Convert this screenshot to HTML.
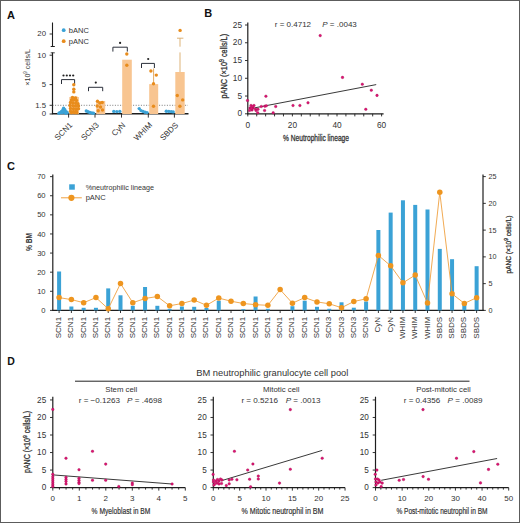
<!DOCTYPE html>
<html><head><meta charset="utf-8"><style>
html,body{margin:0;padding:0;background:#fff;}
body{width:520px;height:523px;overflow:hidden;}
svg{display:block;font-family:"Liberation Sans",sans-serif;}
</style></head><body>
<svg width="520" height="523" viewBox="0 0 520 523">
<rect x="0" y="0" width="520" height="523" fill="#fff"/>
<text x="7.00" y="19.40" font-size="11" text-anchor="start" font-weight="bold" fill="#111" >A</text>
<line x1="52.50" y1="22.50" x2="52.50" y2="46.50" stroke="#1e1e1e" stroke-width="1.1" />
<line x1="50.70" y1="46.50" x2="54.80" y2="46.50" stroke="#1e1e1e" stroke-width="1" />
<line x1="52.50" y1="52.50" x2="52.50" y2="114.00" stroke="#1e1e1e" stroke-width="1.2" />
<line x1="50.70" y1="52.80" x2="54.80" y2="52.80" stroke="#1e1e1e" stroke-width="0.8" />
<line x1="49.60" y1="34.00" x2="52.50" y2="34.00" stroke="#1e1e1e" stroke-width="0.9" />
<text x="46.00" y="36.40" font-size="7.8" text-anchor="end" font-weight="normal" fill="#333" >20</text>
<line x1="49.60" y1="55.20" x2="52.50" y2="55.20" stroke="#1e1e1e" stroke-width="0.9" />
<text x="46.00" y="57.60" font-size="7.8" text-anchor="end" font-weight="normal" fill="#333" >10</text>
<line x1="49.60" y1="84.60" x2="52.50" y2="84.60" stroke="#1e1e1e" stroke-width="0.9" />
<text x="46.00" y="87.00" font-size="7.8" text-anchor="end" font-weight="normal" fill="#333" >5</text>
<line x1="49.60" y1="105.30" x2="52.50" y2="105.30" stroke="#1e1e1e" stroke-width="0.9" />
<text x="46.00" y="107.70" font-size="7.8" text-anchor="end" font-weight="normal" fill="#333" >1.5</text>
<line x1="49.60" y1="114.00" x2="52.50" y2="114.00" stroke="#1e1e1e" stroke-width="0.9" />
<text x="46.00" y="116.40" font-size="7.8" text-anchor="end" font-weight="normal" fill="#333" >0</text>
<text x="0" y="0" font-size="7.8" fill="#333" textLength="36.5" lengthAdjust="spacingAndGlyphs" transform="translate(29.8,67.4) rotate(-90)" text-anchor="middle">×10<tspan font-size="5" dy="-2.5">9</tspan><tspan dy="2.5"> cells/L</tspan></text>
<line x1="52.50" y1="105.30" x2="188.00" y2="105.30" stroke="#444" stroke-width="0.7" stroke-dasharray="1 1.6"/>
<line x1="51.90" y1="113.80" x2="188.50" y2="113.80" stroke="#1e1e1e" stroke-width="1.4" />
<line x1="68.60" y1="114.00" x2="68.60" y2="117.60" stroke="#1e1e1e" stroke-width="0.9" />
<line x1="95.00" y1="114.00" x2="95.00" y2="117.60" stroke="#1e1e1e" stroke-width="0.9" />
<line x1="121.50" y1="114.00" x2="121.50" y2="117.60" stroke="#1e1e1e" stroke-width="0.9" />
<line x1="148.30" y1="114.00" x2="148.30" y2="117.60" stroke="#1e1e1e" stroke-width="0.9" />
<line x1="174.40" y1="114.00" x2="174.40" y2="117.60" stroke="#1e1e1e" stroke-width="0.9" />
<text x="0" y="0" font-size="8" fill="#333" text-anchor="end" transform="translate(72.90,125.60) rotate(-45)">SCN1</text>
<text x="0" y="0" font-size="8" fill="#333" text-anchor="end" transform="translate(99.30,125.60) rotate(-45)">SCN3</text>
<text x="0" y="0" font-size="8" fill="#333" text-anchor="end" transform="translate(125.80,125.60) rotate(-45)">CyN</text>
<text x="0" y="0" font-size="8" fill="#333" text-anchor="end" transform="translate(152.60,125.60) rotate(-45)">WHIM</text>
<text x="0" y="0" font-size="8" fill="#333" text-anchor="end" transform="translate(178.70,125.60) rotate(-45)">SBDS</text>
<circle cx="63.70" cy="30.20" r="1.9" fill="#3ba2d6" stroke="none" stroke-width="0"/>
<text x="68.80" y="32.90" font-size="7.5" text-anchor="start" font-weight="normal" fill="#333" >bANC</text>
<circle cx="63.70" cy="41.20" r="1.9" fill="#e88c1c" stroke="none" stroke-width="0"/>
<text x="68.80" y="43.90" font-size="7.5" text-anchor="start" font-weight="normal" fill="#333" >pANC</text>
<rect x="69.30" y="97.00" width="9.60" height="17.00" fill="#f8c591"/>
<rect x="96.20" y="101.00" width="9.00" height="13.00" fill="#f8c591"/>
<rect x="122.20" y="59.70" width="9.60" height="54.30" fill="#f8c591"/>
<rect x="149.20" y="84.10" width="9.00" height="29.90" fill="#f8c591"/>
<rect x="175.30" y="72.00" width="9.40" height="42.00" fill="#f8c591"/>
<line x1="153.60" y1="68.50" x2="153.60" y2="84.10" stroke="#e0a050" stroke-width="0.9" />
<line x1="180.00" y1="38.20" x2="180.00" y2="46.70" stroke="#d9aa6a" stroke-width="0.9" />
<line x1="180.00" y1="52.40" x2="180.00" y2="72.00" stroke="#d9aa6a" stroke-width="0.9" />
<line x1="177.00" y1="38.20" x2="183.40" y2="38.20" stroke="#d9aa6a" stroke-width="0.9" />
<line x1="70.50" y1="96.60" x2="77.50" y2="96.60" stroke="#f2c9a0" stroke-width="0.7" />
<path d="M61.50 84.00 V79.60 H74.60 V84.00" fill="none" stroke="#2a2f3a" stroke-width="1"/>
<path d="M88.50 91.20 V87.30 H102.70 V91.20" fill="none" stroke="#2a2f3a" stroke-width="1"/>
<path d="M112.90 51.60 V47.20 H127.30 V51.60" fill="none" stroke="#2a2f3a" stroke-width="1"/>
<path d="M141.50 68.00 V63.40 H154.40 V68.00" fill="none" stroke="#2a2f3a" stroke-width="1"/>
<circle cx="63.50" cy="75.50" r="1.1" fill="#222" stroke="none" stroke-width="0"/>
<circle cx="66.80" cy="75.50" r="1.1" fill="#222" stroke="none" stroke-width="0"/>
<circle cx="70.00" cy="75.50" r="1.1" fill="#222" stroke="none" stroke-width="0"/>
<circle cx="73.20" cy="75.50" r="1.1" fill="#222" stroke="none" stroke-width="0"/>
<circle cx="95.80" cy="82.60" r="1.1" fill="#222" stroke="none" stroke-width="0"/>
<circle cx="120.10" cy="42.90" r="1.1" fill="#222" stroke="none" stroke-width="0"/>
<circle cx="148.20" cy="59.00" r="1.1" fill="#222" stroke="none" stroke-width="0"/>
<circle cx="60.00" cy="112.60" r="1.7" fill="#3ba2d6" stroke="none" stroke-width="0"/>
<circle cx="61.50" cy="111.40" r="1.7" fill="#3ba2d6" stroke="none" stroke-width="0"/>
<circle cx="63.00" cy="110.00" r="1.7" fill="#3ba2d6" stroke="none" stroke-width="0"/>
<circle cx="63.60" cy="108.30" r="1.7" fill="#3ba2d6" stroke="none" stroke-width="0"/>
<circle cx="64.80" cy="109.80" r="1.7" fill="#3ba2d6" stroke="none" stroke-width="0"/>
<circle cx="66.20" cy="111.60" r="1.7" fill="#3ba2d6" stroke="none" stroke-width="0"/>
<circle cx="67.20" cy="112.80" r="1.7" fill="#3ba2d6" stroke="none" stroke-width="0"/>
<circle cx="59.00" cy="113.20" r="1.7" fill="#3ba2d6" stroke="none" stroke-width="0"/>
<circle cx="62.00" cy="112.80" r="1.7" fill="#3ba2d6" stroke="none" stroke-width="0"/>
<circle cx="64.20" cy="112.40" r="1.7" fill="#3ba2d6" stroke="none" stroke-width="0"/>
<circle cx="65.80" cy="113.30" r="1.7" fill="#3ba2d6" stroke="none" stroke-width="0"/>
<circle cx="62.50" cy="110.90" r="1.7" fill="#3ba2d6" stroke="none" stroke-width="0"/>
<circle cx="63.80" cy="111.30" r="1.7" fill="#3ba2d6" stroke="none" stroke-width="0"/>
<circle cx="86.30" cy="111.00" r="1.7" fill="#3ba2d6" stroke="none" stroke-width="0"/>
<circle cx="88.00" cy="111.80" r="1.7" fill="#3ba2d6" stroke="none" stroke-width="0"/>
<circle cx="89.80" cy="112.50" r="1.7" fill="#3ba2d6" stroke="none" stroke-width="0"/>
<circle cx="91.80" cy="113.00" r="1.7" fill="#3ba2d6" stroke="none" stroke-width="0"/>
<circle cx="93.50" cy="113.30" r="1.7" fill="#3ba2d6" stroke="none" stroke-width="0"/>
<circle cx="113.80" cy="111.40" r="1.7" fill="#3ba2d6" stroke="none" stroke-width="0"/>
<circle cx="116.80" cy="111.60" r="1.7" fill="#3ba2d6" stroke="none" stroke-width="0"/>
<circle cx="119.80" cy="111.40" r="1.7" fill="#3ba2d6" stroke="none" stroke-width="0"/>
<circle cx="139.20" cy="108.60" r="1.7" fill="#3ba2d6" stroke="none" stroke-width="0"/>
<circle cx="141.00" cy="110.60" r="1.7" fill="#3ba2d6" stroke="none" stroke-width="0"/>
<circle cx="143.00" cy="111.40" r="1.7" fill="#3ba2d6" stroke="none" stroke-width="0"/>
<circle cx="145.00" cy="112.20" r="1.7" fill="#3ba2d6" stroke="none" stroke-width="0"/>
<circle cx="147.00" cy="112.60" r="1.7" fill="#3ba2d6" stroke="none" stroke-width="0"/>
<circle cx="166.30" cy="111.30" r="1.7" fill="#3ba2d6" stroke="none" stroke-width="0"/>
<circle cx="168.80" cy="111.40" r="1.7" fill="#3ba2d6" stroke="none" stroke-width="0"/>
<circle cx="171.20" cy="111.60" r="1.7" fill="#3ba2d6" stroke="none" stroke-width="0"/>
<circle cx="173.20" cy="111.90" r="1.7" fill="#3ba2d6" stroke="none" stroke-width="0"/>
<circle cx="73.80" cy="84.80" r="1.7" fill="#e88c1c" stroke="none" stroke-width="0"/>
<circle cx="73.80" cy="89.30" r="1.7" fill="#e88c1c" stroke="none" stroke-width="0"/>
<circle cx="73.80" cy="91.90" r="1.7" fill="#e88c1c" stroke="none" stroke-width="0"/>
<circle cx="72.50" cy="97.50" r="1.7" fill="#e88c1c" stroke="none" stroke-width="0"/>
<circle cx="75.50" cy="98.00" r="1.7" fill="#e88c1c" stroke="none" stroke-width="0"/>
<circle cx="71.50" cy="100.00" r="1.7" fill="#e88c1c" stroke="none" stroke-width="0"/>
<circle cx="74.00" cy="99.80" r="1.7" fill="#e88c1c" stroke="none" stroke-width="0"/>
<circle cx="76.50" cy="100.50" r="1.7" fill="#e88c1c" stroke="none" stroke-width="0"/>
<circle cx="70.50" cy="102.50" r="1.7" fill="#e88c1c" stroke="none" stroke-width="0"/>
<circle cx="73.00" cy="102.80" r="1.7" fill="#e88c1c" stroke="none" stroke-width="0"/>
<circle cx="75.80" cy="103.20" r="1.7" fill="#e88c1c" stroke="none" stroke-width="0"/>
<circle cx="78.00" cy="103.80" r="1.7" fill="#e88c1c" stroke="none" stroke-width="0"/>
<circle cx="70.00" cy="105.50" r="1.7" fill="#e88c1c" stroke="none" stroke-width="0"/>
<circle cx="72.80" cy="105.60" r="1.7" fill="#e88c1c" stroke="none" stroke-width="0"/>
<circle cx="75.50" cy="106.00" r="1.7" fill="#e88c1c" stroke="none" stroke-width="0"/>
<circle cx="78.50" cy="106.00" r="1.7" fill="#e88c1c" stroke="none" stroke-width="0"/>
<circle cx="70.50" cy="108.50" r="1.7" fill="#e88c1c" stroke="none" stroke-width="0"/>
<circle cx="73.50" cy="108.80" r="1.7" fill="#e88c1c" stroke="none" stroke-width="0"/>
<circle cx="76.50" cy="109.00" r="1.7" fill="#e88c1c" stroke="none" stroke-width="0"/>
<circle cx="78.50" cy="108.80" r="1.7" fill="#e88c1c" stroke="none" stroke-width="0"/>
<circle cx="70.50" cy="111.20" r="1.7" fill="#e88c1c" stroke="none" stroke-width="0"/>
<circle cx="73.50" cy="111.50" r="1.7" fill="#e88c1c" stroke="none" stroke-width="0"/>
<circle cx="76.30" cy="111.20" r="1.7" fill="#e88c1c" stroke="none" stroke-width="0"/>
<circle cx="71.50" cy="112.80" r="1.7" fill="#e88c1c" stroke="none" stroke-width="0"/>
<circle cx="74.50" cy="112.80" r="1.7" fill="#e88c1c" stroke="none" stroke-width="0"/>
<circle cx="76.80" cy="112.80" r="1.7" fill="#e88c1c" stroke="none" stroke-width="0"/>
<circle cx="97.50" cy="101.30" r="1.7" fill="#e88c1c" stroke="none" stroke-width="0"/>
<circle cx="99.80" cy="103.00" r="1.7" fill="#e88c1c" stroke="none" stroke-width="0"/>
<circle cx="102.20" cy="102.50" r="1.7" fill="#e88c1c" stroke="none" stroke-width="0"/>
<circle cx="97.20" cy="106.00" r="1.7" fill="#e88c1c" stroke="none" stroke-width="0"/>
<circle cx="100.50" cy="107.00" r="1.7" fill="#e88c1c" stroke="none" stroke-width="0"/>
<circle cx="102.50" cy="110.00" r="1.7" fill="#e88c1c" stroke="none" stroke-width="0"/>
<circle cx="98.20" cy="110.80" r="1.7" fill="#e88c1c" stroke="none" stroke-width="0"/>
<circle cx="126.80" cy="54.00" r="1.7" fill="#e88c1c" stroke="none" stroke-width="0"/>
<circle cx="126.80" cy="65.20" r="1.7" fill="#e88c1c" stroke="none" stroke-width="0"/>
<circle cx="150.90" cy="71.00" r="1.7" fill="#e88c1c" stroke="none" stroke-width="0"/>
<circle cx="156.30" cy="75.10" r="1.7" fill="#e88c1c" stroke="none" stroke-width="0"/>
<circle cx="153.50" cy="83.75" r="1.7" fill="#e88c1c" stroke="none" stroke-width="0"/>
<circle cx="153.50" cy="106.20" r="1.7" fill="#e88c1c" stroke="none" stroke-width="0"/>
<circle cx="180.10" cy="30.40" r="1.7" fill="#e88c1c" stroke="none" stroke-width="0"/>
<circle cx="177.30" cy="95.50" r="1.7" fill="#e88c1c" stroke="none" stroke-width="0"/>
<circle cx="182.70" cy="99.90" r="1.7" fill="#e88c1c" stroke="none" stroke-width="0"/>
<circle cx="179.90" cy="106.20" r="1.7" fill="#e88c1c" stroke="none" stroke-width="0"/>
<text x="204.20" y="16.70" font-size="11" text-anchor="start" font-weight="bold" fill="#111" >B</text>
<line x1="247.80" y1="22.50" x2="247.80" y2="114.30" stroke="#1e1e1e" stroke-width="1.2" />
<line x1="247.20" y1="113.80" x2="383.60" y2="113.80" stroke="#1e1e1e" stroke-width="1.3" />
<line x1="245.00" y1="113.80" x2="247.80" y2="113.80" stroke="#1e1e1e" stroke-width="0.9" />
<text x="242.00" y="116.40" font-size="8.3" text-anchor="end" font-weight="normal" fill="#333" >0</text>
<line x1="245.00" y1="96.04" x2="247.80" y2="96.04" stroke="#1e1e1e" stroke-width="0.9" />
<text x="242.00" y="98.64" font-size="8.3" text-anchor="end" font-weight="normal" fill="#333" >5</text>
<line x1="245.00" y1="78.28" x2="247.80" y2="78.28" stroke="#1e1e1e" stroke-width="0.9" />
<text x="242.00" y="80.88" font-size="8.3" text-anchor="end" font-weight="normal" fill="#333" >10</text>
<line x1="245.00" y1="60.52" x2="247.80" y2="60.52" stroke="#1e1e1e" stroke-width="0.9" />
<text x="242.00" y="63.12" font-size="8.3" text-anchor="end" font-weight="normal" fill="#333" >15</text>
<line x1="245.00" y1="42.76" x2="247.80" y2="42.76" stroke="#1e1e1e" stroke-width="0.9" />
<text x="242.00" y="45.36" font-size="8.3" text-anchor="end" font-weight="normal" fill="#333" >20</text>
<line x1="245.00" y1="25.00" x2="247.80" y2="25.00" stroke="#1e1e1e" stroke-width="0.9" />
<text x="242.00" y="27.60" font-size="8.3" text-anchor="end" font-weight="normal" fill="#333" >25</text>
<line x1="247.80" y1="113.80" x2="247.80" y2="116.40" stroke="#1e1e1e" stroke-width="0.9" />
<line x1="256.72" y1="113.80" x2="256.72" y2="116.40" stroke="#1e1e1e" stroke-width="0.9" />
<line x1="265.64" y1="113.80" x2="265.64" y2="116.40" stroke="#1e1e1e" stroke-width="0.9" />
<line x1="274.56" y1="113.80" x2="274.56" y2="116.40" stroke="#1e1e1e" stroke-width="0.9" />
<line x1="283.48" y1="113.80" x2="283.48" y2="116.40" stroke="#1e1e1e" stroke-width="0.9" />
<line x1="292.40" y1="113.80" x2="292.40" y2="116.40" stroke="#1e1e1e" stroke-width="0.9" />
<line x1="301.32" y1="113.80" x2="301.32" y2="116.40" stroke="#1e1e1e" stroke-width="0.9" />
<line x1="310.24" y1="113.80" x2="310.24" y2="116.40" stroke="#1e1e1e" stroke-width="0.9" />
<line x1="319.16" y1="113.80" x2="319.16" y2="116.40" stroke="#1e1e1e" stroke-width="0.9" />
<line x1="328.08" y1="113.80" x2="328.08" y2="116.40" stroke="#1e1e1e" stroke-width="0.9" />
<line x1="337.00" y1="113.80" x2="337.00" y2="116.40" stroke="#1e1e1e" stroke-width="0.9" />
<line x1="345.92" y1="113.80" x2="345.92" y2="116.40" stroke="#1e1e1e" stroke-width="0.9" />
<line x1="354.84" y1="113.80" x2="354.84" y2="116.40" stroke="#1e1e1e" stroke-width="0.9" />
<line x1="363.76" y1="113.80" x2="363.76" y2="116.40" stroke="#1e1e1e" stroke-width="0.9" />
<line x1="372.68" y1="113.80" x2="372.68" y2="116.40" stroke="#1e1e1e" stroke-width="0.9" />
<line x1="381.60" y1="113.80" x2="381.60" y2="116.40" stroke="#1e1e1e" stroke-width="0.9" />
<text x="247.80" y="127.50" font-size="8.3" text-anchor="middle" font-weight="normal" fill="#333" >0</text>
<text x="292.40" y="127.50" font-size="8.3" text-anchor="middle" font-weight="normal" fill="#333" >20</text>
<text x="337.00" y="127.50" font-size="8.3" text-anchor="middle" font-weight="normal" fill="#333" >40</text>
<text x="381.60" y="127.50" font-size="8.3" text-anchor="middle" font-weight="normal" fill="#333" >60</text>
<text x="227.20" y="98.40" font-size="9.0" text-anchor="start" font-weight="normal" fill="#333" stroke="#333" stroke-width="0.3" textLength="64.5" lengthAdjust="spacingAndGlyphs" transform="rotate(-90 227.20 98.40)">pANC (×10<tspan font-size="6.5" dy="-3">9</tspan><tspan dy="3"> cells/L)</tspan></text>
<text x="283.00" y="140.50" font-size="9.4" text-anchor="start" font-weight="normal" fill="#333" stroke="#333" stroke-width="0.3" textLength="66" lengthAdjust="spacingAndGlyphs" >% Neutrophilic lineage</text>
<text x="274.80" y="27.40" font-size="8" text-anchor="start" font-weight="normal" fill="#333" >r = 0.4712</text>
<text x="322.30" y="27.40" font-size="8" text-anchor="start" font-weight="normal" fill="#333" ><tspan font-style="italic">P</tspan> = .0043</text>
<line x1="254.40" y1="107.90" x2="376.20" y2="84.60" stroke="#222" stroke-width="0.9" />
<circle cx="265.90" cy="96.20" r="1.3" fill="#dd1274" stroke="#a0104c" stroke-width="0.35"/>
<circle cx="247.50" cy="100.50" r="1.3" fill="#dd1274" stroke="#a0104c" stroke-width="0.35"/>
<circle cx="261.30" cy="106.50" r="1.3" fill="#dd1274" stroke="#a0104c" stroke-width="0.35"/>
<circle cx="264.90" cy="106.20" r="1.3" fill="#dd1274" stroke="#a0104c" stroke-width="0.35"/>
<circle cx="266.30" cy="105.80" r="1.3" fill="#dd1274" stroke="#a0104c" stroke-width="0.35"/>
<circle cx="275.70" cy="106.50" r="1.3" fill="#dd1274" stroke="#a0104c" stroke-width="0.35"/>
<circle cx="264.60" cy="110.50" r="1.3" fill="#dd1274" stroke="#a0104c" stroke-width="0.35"/>
<circle cx="258.00" cy="109.30" r="1.3" fill="#dd1274" stroke="#a0104c" stroke-width="0.35"/>
<circle cx="257.70" cy="112.80" r="1.3" fill="#dd1274" stroke="#a0104c" stroke-width="0.35"/>
<circle cx="273.20" cy="112.80" r="1.3" fill="#dd1274" stroke="#a0104c" stroke-width="0.35"/>
<circle cx="251.00" cy="105.50" r="1.3" fill="#dd1274" stroke="#a0104c" stroke-width="0.35"/>
<circle cx="254.00" cy="105.50" r="1.3" fill="#dd1274" stroke="#a0104c" stroke-width="0.35"/>
<circle cx="250.00" cy="108.00" r="1.3" fill="#dd1274" stroke="#a0104c" stroke-width="0.35"/>
<circle cx="253.00" cy="108.00" r="1.3" fill="#dd1274" stroke="#a0104c" stroke-width="0.35"/>
<circle cx="255.50" cy="109.00" r="1.3" fill="#dd1274" stroke="#a0104c" stroke-width="0.35"/>
<circle cx="252.00" cy="110.00" r="1.3" fill="#dd1274" stroke="#a0104c" stroke-width="0.35"/>
<circle cx="249.50" cy="110.50" r="1.3" fill="#dd1274" stroke="#a0104c" stroke-width="0.35"/>
<circle cx="256.00" cy="110.50" r="1.3" fill="#dd1274" stroke="#a0104c" stroke-width="0.35"/>
<circle cx="252.50" cy="106.50" r="1.3" fill="#dd1274" stroke="#a0104c" stroke-width="0.35"/>
<circle cx="251.50" cy="108.50" r="1.3" fill="#dd1274" stroke="#a0104c" stroke-width="0.35"/>
<circle cx="320.20" cy="35.60" r="1.3" fill="#dd1274" stroke="#a0104c" stroke-width="0.35"/>
<circle cx="293.00" cy="105.50" r="1.3" fill="#dd1274" stroke="#a0104c" stroke-width="0.35"/>
<circle cx="299.90" cy="105.50" r="1.3" fill="#dd1274" stroke="#a0104c" stroke-width="0.35"/>
<circle cx="308.00" cy="102.80" r="1.3" fill="#dd1274" stroke="#a0104c" stroke-width="0.35"/>
<circle cx="342.50" cy="77.40" r="1.3" fill="#dd1274" stroke="#a0104c" stroke-width="0.35"/>
<circle cx="362.30" cy="84.20" r="1.3" fill="#dd1274" stroke="#a0104c" stroke-width="0.35"/>
<circle cx="371.30" cy="90.20" r="1.3" fill="#dd1274" stroke="#a0104c" stroke-width="0.35"/>
<circle cx="377.00" cy="95.40" r="1.3" fill="#dd1274" stroke="#a0104c" stroke-width="0.35"/>
<circle cx="365.80" cy="109.30" r="1.3" fill="#dd1274" stroke="#a0104c" stroke-width="0.35"/>
<text x="7.00" y="169.80" font-size="11" text-anchor="start" font-weight="bold" fill="#111" >C</text>
<line x1="52.80" y1="174.50" x2="52.80" y2="310.90" stroke="#1e1e1e" stroke-width="1.2" />
<line x1="52.20" y1="310.40" x2="483.60" y2="310.40" stroke="#1e1e1e" stroke-width="1.3" />
<line x1="483.00" y1="174.50" x2="483.00" y2="310.90" stroke="#1e1e1e" stroke-width="1.2" />
<line x1="50.00" y1="310.40" x2="52.80" y2="310.40" stroke="#1e1e1e" stroke-width="0.9" />
<text x="45.60" y="313.00" font-size="7.6" text-anchor="end" font-weight="normal" fill="#333" >0</text>
<line x1="50.00" y1="291.29" x2="52.80" y2="291.29" stroke="#1e1e1e" stroke-width="0.9" />
<text x="45.60" y="293.89" font-size="7.6" text-anchor="end" font-weight="normal" fill="#333" >10</text>
<line x1="50.00" y1="272.18" x2="52.80" y2="272.18" stroke="#1e1e1e" stroke-width="0.9" />
<text x="45.60" y="274.78" font-size="7.6" text-anchor="end" font-weight="normal" fill="#333" >20</text>
<line x1="50.00" y1="253.07" x2="52.80" y2="253.07" stroke="#1e1e1e" stroke-width="0.9" />
<text x="45.60" y="255.67" font-size="7.6" text-anchor="end" font-weight="normal" fill="#333" >30</text>
<line x1="50.00" y1="233.96" x2="52.80" y2="233.96" stroke="#1e1e1e" stroke-width="0.9" />
<text x="45.60" y="236.56" font-size="7.6" text-anchor="end" font-weight="normal" fill="#333" >40</text>
<line x1="50.00" y1="214.85" x2="52.80" y2="214.85" stroke="#1e1e1e" stroke-width="0.9" />
<text x="45.60" y="217.45" font-size="7.6" text-anchor="end" font-weight="normal" fill="#333" >50</text>
<line x1="50.00" y1="195.74" x2="52.80" y2="195.74" stroke="#1e1e1e" stroke-width="0.9" />
<text x="45.60" y="198.34" font-size="7.6" text-anchor="end" font-weight="normal" fill="#333" >60</text>
<line x1="50.00" y1="176.63" x2="52.80" y2="176.63" stroke="#1e1e1e" stroke-width="0.9" />
<text x="45.60" y="179.23" font-size="7.6" text-anchor="end" font-weight="normal" fill="#333" >70</text>
<line x1="483.00" y1="310.40" x2="485.80" y2="310.40" stroke="#1e1e1e" stroke-width="0.9" />
<text x="488.60" y="313.00" font-size="7.2" text-anchor="start" font-weight="normal" fill="#333" >0</text>
<line x1="483.00" y1="283.64" x2="485.80" y2="283.64" stroke="#1e1e1e" stroke-width="0.9" />
<text x="488.60" y="286.24" font-size="7.2" text-anchor="start" font-weight="normal" fill="#333" >5</text>
<line x1="483.00" y1="256.88" x2="485.80" y2="256.88" stroke="#1e1e1e" stroke-width="0.9" />
<text x="488.60" y="259.48" font-size="7.2" text-anchor="start" font-weight="normal" fill="#333" >10</text>
<line x1="483.00" y1="230.12" x2="485.80" y2="230.12" stroke="#1e1e1e" stroke-width="0.9" />
<text x="488.60" y="232.72" font-size="7.2" text-anchor="start" font-weight="normal" fill="#333" >15</text>
<line x1="483.00" y1="203.36" x2="485.80" y2="203.36" stroke="#1e1e1e" stroke-width="0.9" />
<text x="488.60" y="205.96" font-size="7.2" text-anchor="start" font-weight="normal" fill="#333" >20</text>
<line x1="483.00" y1="176.60" x2="485.80" y2="176.60" stroke="#1e1e1e" stroke-width="0.9" />
<text x="488.60" y="179.20" font-size="7.2" text-anchor="start" font-weight="normal" fill="#333" >25</text>
<text x="31.60" y="251.00" font-size="9.2" text-anchor="start" font-weight="bold" fill="#333"  textLength="18" lengthAdjust="spacingAndGlyphs" transform="rotate(-90 31.60 251.00)">% BM</text>
<text x="510.50" y="273.50" font-size="7.6" text-anchor="start" font-weight="normal" fill="#333" stroke="#333" stroke-width="0.3" textLength="58" lengthAdjust="spacingAndGlyphs" transform="rotate(-90 510.50 273.50)">pANC (×10<tspan font-size="5.5" dy="-2.6">9</tspan><tspan dy="2.6"> cells/L)</tspan></text>
<rect x="69.20" y="184.30" width="5.60" height="5.40" fill="#3ba2d6"/>
<text x="85.70" y="189.50" font-size="7.2" text-anchor="start" font-weight="normal" fill="#333" >%neutrophilic lineage</text>
<line x1="61.00" y1="197.80" x2="81.80" y2="197.80" stroke="#efa040" stroke-width="1" />
<circle cx="71.40" cy="197.80" r="3.1" fill="#ee951f" stroke="none" stroke-width="0"/>
<text x="85.70" y="200.20" font-size="7.5" text-anchor="start" font-weight="normal" fill="#333" >pANC</text>
<rect x="57.10" y="271.50" width="4.00" height="38.90" fill="#3ba2d6"/>
<line x1="59.10" y1="310.40" x2="59.10" y2="313.00" stroke="#1e1e1e" stroke-width="0.9" />
<rect x="69.38" y="306.50" width="4.00" height="3.90" fill="#3ba2d6"/>
<line x1="71.38" y1="310.40" x2="71.38" y2="313.00" stroke="#1e1e1e" stroke-width="0.9" />
<rect x="81.66" y="307.80" width="4.00" height="2.60" fill="#3ba2d6"/>
<line x1="83.66" y1="310.40" x2="83.66" y2="313.00" stroke="#1e1e1e" stroke-width="0.9" />
<rect x="93.94" y="307.80" width="4.00" height="2.60" fill="#3ba2d6"/>
<line x1="95.94" y1="310.40" x2="95.94" y2="313.00" stroke="#1e1e1e" stroke-width="0.9" />
<rect x="106.22" y="288.40" width="4.00" height="22.00" fill="#3ba2d6"/>
<line x1="108.22" y1="310.40" x2="108.22" y2="313.00" stroke="#1e1e1e" stroke-width="0.9" />
<rect x="118.50" y="295.30" width="4.00" height="15.10" fill="#3ba2d6"/>
<line x1="120.50" y1="310.40" x2="120.50" y2="313.00" stroke="#1e1e1e" stroke-width="0.9" />
<rect x="130.78" y="305.80" width="4.00" height="4.60" fill="#3ba2d6"/>
<line x1="132.78" y1="310.40" x2="132.78" y2="313.00" stroke="#1e1e1e" stroke-width="0.9" />
<rect x="143.06" y="287.00" width="4.00" height="23.40" fill="#3ba2d6"/>
<line x1="145.06" y1="310.40" x2="145.06" y2="313.00" stroke="#1e1e1e" stroke-width="0.9" />
<rect x="155.34" y="305.80" width="4.00" height="4.60" fill="#3ba2d6"/>
<line x1="157.34" y1="310.40" x2="157.34" y2="313.00" stroke="#1e1e1e" stroke-width="0.9" />
<rect x="167.62" y="308.80" width="4.00" height="1.60" fill="#3ba2d6"/>
<line x1="169.62" y1="310.40" x2="169.62" y2="313.00" stroke="#1e1e1e" stroke-width="0.9" />
<rect x="179.90" y="306.50" width="4.00" height="3.90" fill="#3ba2d6"/>
<line x1="181.90" y1="310.40" x2="181.90" y2="313.00" stroke="#1e1e1e" stroke-width="0.9" />
<rect x="192.18" y="306.80" width="4.00" height="3.60" fill="#3ba2d6"/>
<line x1="194.18" y1="310.40" x2="194.18" y2="313.00" stroke="#1e1e1e" stroke-width="0.9" />
<rect x="204.46" y="308.00" width="4.00" height="2.40" fill="#3ba2d6"/>
<line x1="206.46" y1="310.40" x2="206.46" y2="313.00" stroke="#1e1e1e" stroke-width="0.9" />
<rect x="216.74" y="300.70" width="4.00" height="9.70" fill="#3ba2d6"/>
<line x1="218.74" y1="310.40" x2="218.74" y2="313.00" stroke="#1e1e1e" stroke-width="0.9" />
<line x1="231.02" y1="310.40" x2="231.02" y2="313.00" stroke="#1e1e1e" stroke-width="0.9" />
<rect x="241.30" y="309.20" width="4.00" height="1.20" fill="#3ba2d6"/>
<line x1="243.30" y1="310.40" x2="243.30" y2="313.00" stroke="#1e1e1e" stroke-width="0.9" />
<rect x="253.58" y="296.50" width="4.00" height="13.90" fill="#3ba2d6"/>
<line x1="255.58" y1="310.40" x2="255.58" y2="313.00" stroke="#1e1e1e" stroke-width="0.9" />
<rect x="265.86" y="308.80" width="4.00" height="1.60" fill="#3ba2d6"/>
<line x1="267.86" y1="310.40" x2="267.86" y2="313.00" stroke="#1e1e1e" stroke-width="0.9" />
<line x1="280.14" y1="310.40" x2="280.14" y2="313.00" stroke="#1e1e1e" stroke-width="0.9" />
<rect x="290.42" y="306.20" width="4.00" height="4.20" fill="#3ba2d6"/>
<line x1="292.42" y1="310.40" x2="292.42" y2="313.00" stroke="#1e1e1e" stroke-width="0.9" />
<rect x="302.70" y="300.70" width="4.00" height="9.70" fill="#3ba2d6"/>
<line x1="304.70" y1="310.40" x2="304.70" y2="313.00" stroke="#1e1e1e" stroke-width="0.9" />
<rect x="314.98" y="306.80" width="4.00" height="3.60" fill="#3ba2d6"/>
<line x1="316.98" y1="310.40" x2="316.98" y2="313.00" stroke="#1e1e1e" stroke-width="0.9" />
<rect x="327.26" y="308.80" width="4.00" height="1.60" fill="#3ba2d6"/>
<line x1="329.26" y1="310.40" x2="329.26" y2="313.00" stroke="#1e1e1e" stroke-width="0.9" />
<rect x="339.54" y="302.30" width="4.00" height="8.10" fill="#3ba2d6"/>
<line x1="341.54" y1="310.40" x2="341.54" y2="313.00" stroke="#1e1e1e" stroke-width="0.9" />
<rect x="351.82" y="307.70" width="4.00" height="2.70" fill="#3ba2d6"/>
<line x1="353.82" y1="310.40" x2="353.82" y2="313.00" stroke="#1e1e1e" stroke-width="0.9" />
<rect x="364.10" y="301.50" width="4.00" height="8.90" fill="#3ba2d6"/>
<line x1="366.10" y1="310.40" x2="366.10" y2="313.00" stroke="#1e1e1e" stroke-width="0.9" />
<rect x="376.38" y="230.00" width="4.00" height="80.40" fill="#3ba2d6"/>
<line x1="378.38" y1="310.40" x2="378.38" y2="313.00" stroke="#1e1e1e" stroke-width="0.9" />
<rect x="388.66" y="212.60" width="4.00" height="97.80" fill="#3ba2d6"/>
<line x1="390.66" y1="310.40" x2="390.66" y2="313.00" stroke="#1e1e1e" stroke-width="0.9" />
<rect x="400.94" y="200.30" width="4.00" height="110.10" fill="#3ba2d6"/>
<line x1="402.94" y1="310.40" x2="402.94" y2="313.00" stroke="#1e1e1e" stroke-width="0.9" />
<rect x="413.22" y="204.90" width="4.00" height="105.50" fill="#3ba2d6"/>
<line x1="415.22" y1="310.40" x2="415.22" y2="313.00" stroke="#1e1e1e" stroke-width="0.9" />
<rect x="425.50" y="209.50" width="4.00" height="100.90" fill="#3ba2d6"/>
<line x1="427.50" y1="310.40" x2="427.50" y2="313.00" stroke="#1e1e1e" stroke-width="0.9" />
<rect x="437.78" y="248.90" width="4.00" height="61.50" fill="#3ba2d6"/>
<line x1="439.78" y1="310.40" x2="439.78" y2="313.00" stroke="#1e1e1e" stroke-width="0.9" />
<rect x="450.06" y="259.20" width="4.00" height="51.20" fill="#3ba2d6"/>
<line x1="452.06" y1="310.40" x2="452.06" y2="313.00" stroke="#1e1e1e" stroke-width="0.9" />
<rect x="462.34" y="302.50" width="4.00" height="7.90" fill="#3ba2d6"/>
<line x1="464.34" y1="310.40" x2="464.34" y2="313.00" stroke="#1e1e1e" stroke-width="0.9" />
<rect x="474.62" y="266.20" width="4.00" height="44.20" fill="#3ba2d6"/>
<line x1="476.62" y1="310.40" x2="476.62" y2="313.00" stroke="#1e1e1e" stroke-width="0.9" />
<polyline points="59.10,297.60 71.38,299.60 83.66,302.70 95.94,297.60 108.22,308.80 120.50,283.50 132.78,302.70 145.06,298.50 157.34,296.50 169.62,305.80 181.90,303.50 194.18,300.10 206.46,305.30 218.74,298.10 231.02,301.20 243.30,303.50 255.58,304.70 267.86,305.30 280.14,289.60 292.42,303.20 304.70,297.60 316.98,301.90 329.26,303.80 341.54,307.70 353.82,301.50 366.10,298.80 378.38,255.40 390.66,265.80 402.94,282.80 415.22,275.10 427.50,303.10 439.78,192.30 452.06,293.80 464.34,303.40 476.62,297.70" fill="none" stroke="#efa040" stroke-width="0.9"/>
<circle cx="59.10" cy="297.60" r="2.75" fill="#ee951f" stroke="none" stroke-width="0"/>
<circle cx="71.38" cy="299.60" r="2.75" fill="#ee951f" stroke="none" stroke-width="0"/>
<circle cx="83.66" cy="302.70" r="2.75" fill="#ee951f" stroke="none" stroke-width="0"/>
<circle cx="95.94" cy="297.60" r="2.75" fill="#ee951f" stroke="none" stroke-width="0"/>
<circle cx="108.22" cy="308.80" r="2.75" fill="#ee951f" stroke="none" stroke-width="0"/>
<circle cx="120.50" cy="283.50" r="2.75" fill="#ee951f" stroke="none" stroke-width="0"/>
<circle cx="132.78" cy="302.70" r="2.75" fill="#ee951f" stroke="none" stroke-width="0"/>
<circle cx="145.06" cy="298.50" r="2.75" fill="#ee951f" stroke="none" stroke-width="0"/>
<circle cx="157.34" cy="296.50" r="2.75" fill="#ee951f" stroke="none" stroke-width="0"/>
<circle cx="169.62" cy="305.80" r="2.75" fill="#ee951f" stroke="none" stroke-width="0"/>
<circle cx="181.90" cy="303.50" r="2.75" fill="#ee951f" stroke="none" stroke-width="0"/>
<circle cx="194.18" cy="300.10" r="2.75" fill="#ee951f" stroke="none" stroke-width="0"/>
<circle cx="206.46" cy="305.30" r="2.75" fill="#ee951f" stroke="none" stroke-width="0"/>
<circle cx="218.74" cy="298.10" r="2.75" fill="#ee951f" stroke="none" stroke-width="0"/>
<circle cx="231.02" cy="301.20" r="2.75" fill="#ee951f" stroke="none" stroke-width="0"/>
<circle cx="243.30" cy="303.50" r="2.75" fill="#ee951f" stroke="none" stroke-width="0"/>
<circle cx="255.58" cy="304.70" r="2.75" fill="#ee951f" stroke="none" stroke-width="0"/>
<circle cx="267.86" cy="305.30" r="2.75" fill="#ee951f" stroke="none" stroke-width="0"/>
<circle cx="280.14" cy="289.60" r="2.75" fill="#ee951f" stroke="none" stroke-width="0"/>
<circle cx="292.42" cy="303.20" r="2.75" fill="#ee951f" stroke="none" stroke-width="0"/>
<circle cx="304.70" cy="297.60" r="2.75" fill="#ee951f" stroke="none" stroke-width="0"/>
<circle cx="316.98" cy="301.90" r="2.75" fill="#ee951f" stroke="none" stroke-width="0"/>
<circle cx="329.26" cy="303.80" r="2.75" fill="#ee951f" stroke="none" stroke-width="0"/>
<circle cx="341.54" cy="307.70" r="2.75" fill="#ee951f" stroke="none" stroke-width="0"/>
<circle cx="353.82" cy="301.50" r="2.75" fill="#ee951f" stroke="none" stroke-width="0"/>
<circle cx="366.10" cy="298.80" r="2.75" fill="#ee951f" stroke="none" stroke-width="0"/>
<circle cx="378.38" cy="255.40" r="2.75" fill="#ee951f" stroke="none" stroke-width="0"/>
<circle cx="390.66" cy="265.80" r="2.75" fill="#ee951f" stroke="none" stroke-width="0"/>
<circle cx="402.94" cy="282.80" r="2.75" fill="#ee951f" stroke="none" stroke-width="0"/>
<circle cx="415.22" cy="275.10" r="2.75" fill="#ee951f" stroke="none" stroke-width="0"/>
<circle cx="427.50" cy="303.10" r="2.75" fill="#ee951f" stroke="none" stroke-width="0"/>
<circle cx="439.78" cy="192.30" r="2.75" fill="#ee951f" stroke="none" stroke-width="0"/>
<circle cx="452.06" cy="293.80" r="2.75" fill="#ee951f" stroke="none" stroke-width="0"/>
<circle cx="464.34" cy="303.40" r="2.75" fill="#ee951f" stroke="none" stroke-width="0"/>
<circle cx="476.62" cy="297.70" r="2.75" fill="#ee951f" stroke="none" stroke-width="0"/>
<text x="0" y="0" font-size="8" fill="#333" text-anchor="end" transform="translate(61.10,316.90) rotate(-90)">SCN1</text>
<text x="0" y="0" font-size="8" fill="#333" text-anchor="end" transform="translate(73.38,316.90) rotate(-90)">SCN1</text>
<text x="0" y="0" font-size="8" fill="#333" text-anchor="end" transform="translate(85.66,316.90) rotate(-90)">SCN1</text>
<text x="0" y="0" font-size="8" fill="#333" text-anchor="end" transform="translate(97.94,316.90) rotate(-90)">SCN1</text>
<text x="0" y="0" font-size="8" fill="#333" text-anchor="end" transform="translate(110.22,316.90) rotate(-90)">SCN1</text>
<text x="0" y="0" font-size="8" fill="#333" text-anchor="end" transform="translate(122.50,316.90) rotate(-90)">SCN1</text>
<text x="0" y="0" font-size="8" fill="#333" text-anchor="end" transform="translate(134.78,316.90) rotate(-90)">SCN1</text>
<text x="0" y="0" font-size="8" fill="#333" text-anchor="end" transform="translate(147.06,316.90) rotate(-90)">SCN1</text>
<text x="0" y="0" font-size="8" fill="#333" text-anchor="end" transform="translate(159.34,316.90) rotate(-90)">SCN1</text>
<text x="0" y="0" font-size="8" fill="#333" text-anchor="end" transform="translate(171.62,316.90) rotate(-90)">SCN1</text>
<text x="0" y="0" font-size="8" fill="#333" text-anchor="end" transform="translate(183.90,316.90) rotate(-90)">SCN1</text>
<text x="0" y="0" font-size="8" fill="#333" text-anchor="end" transform="translate(196.18,316.90) rotate(-90)">SCN1</text>
<text x="0" y="0" font-size="8" fill="#333" text-anchor="end" transform="translate(208.46,316.90) rotate(-90)">SCN1</text>
<text x="0" y="0" font-size="8" fill="#333" text-anchor="end" transform="translate(220.74,316.90) rotate(-90)">SCN1</text>
<text x="0" y="0" font-size="8" fill="#333" text-anchor="end" transform="translate(233.02,316.90) rotate(-90)">SCN1</text>
<text x="0" y="0" font-size="8" fill="#333" text-anchor="end" transform="translate(245.30,316.90) rotate(-90)">SCN1</text>
<text x="0" y="0" font-size="8" fill="#333" text-anchor="end" transform="translate(257.58,316.90) rotate(-90)">SCN1</text>
<text x="0" y="0" font-size="8" fill="#333" text-anchor="end" transform="translate(269.86,316.90) rotate(-90)">SCN1</text>
<text x="0" y="0" font-size="8" fill="#333" text-anchor="end" transform="translate(282.14,316.90) rotate(-90)">SCN1</text>
<text x="0" y="0" font-size="8" fill="#333" text-anchor="end" transform="translate(294.42,316.90) rotate(-90)">SCN1</text>
<text x="0" y="0" font-size="8" fill="#333" text-anchor="end" transform="translate(306.70,316.90) rotate(-90)">SCN1</text>
<text x="0" y="0" font-size="8" fill="#333" text-anchor="end" transform="translate(318.98,316.90) rotate(-90)">SCN1</text>
<text x="0" y="0" font-size="8" fill="#333" text-anchor="end" transform="translate(331.26,316.90) rotate(-90)">SCN3</text>
<text x="0" y="0" font-size="8" fill="#333" text-anchor="end" transform="translate(343.54,316.90) rotate(-90)">SCN3</text>
<text x="0" y="0" font-size="8" fill="#333" text-anchor="end" transform="translate(355.82,316.90) rotate(-90)">SCN3</text>
<text x="0" y="0" font-size="8" fill="#333" text-anchor="end" transform="translate(368.10,316.90) rotate(-90)">SCN3</text>
<text x="0" y="0" font-size="8" fill="#333" text-anchor="end" transform="translate(380.38,316.90) rotate(-90)">CyN</text>
<text x="0" y="0" font-size="8" fill="#333" text-anchor="end" transform="translate(392.66,316.90) rotate(-90)">CyN</text>
<text x="0" y="0" font-size="8" fill="#333" text-anchor="end" transform="translate(404.94,316.90) rotate(-90)">WHIM</text>
<text x="0" y="0" font-size="8" fill="#333" text-anchor="end" transform="translate(417.22,316.90) rotate(-90)">WHIM</text>
<text x="0" y="0" font-size="8" fill="#333" text-anchor="end" transform="translate(429.50,316.90) rotate(-90)">WHIM</text>
<text x="0" y="0" font-size="8" fill="#333" text-anchor="end" transform="translate(441.78,316.90) rotate(-90)">SBDS</text>
<text x="0" y="0" font-size="8" fill="#333" text-anchor="end" transform="translate(454.06,316.90) rotate(-90)">SBDS</text>
<text x="0" y="0" font-size="8" fill="#333" text-anchor="end" transform="translate(466.34,316.90) rotate(-90)">SBDS</text>
<text x="0" y="0" font-size="8" fill="#333" text-anchor="end" transform="translate(478.62,316.90) rotate(-90)">SBDS</text>
<text x="7.20" y="364.80" font-size="10.5" text-anchor="start" font-weight="bold" fill="#111" >D</text>
<text x="196.20" y="375.80" font-size="9.35" text-anchor="start" font-weight="normal" fill="#333" >BM neutrophilic granulocyte cell pool</text>
<line x1="75.00" y1="381.20" x2="469.50" y2="381.20" stroke="#222" stroke-width="1" />
<line x1="52.80" y1="396.70" x2="52.80" y2="488.10" stroke="#1e1e1e" stroke-width="1.2" />
<line x1="52.20" y1="487.60" x2="185.30" y2="487.60" stroke="#1e1e1e" stroke-width="1.3" />
<line x1="50.00" y1="487.60" x2="52.80" y2="487.60" stroke="#1e1e1e" stroke-width="0.9" />
<text x="46.20" y="490.20" font-size="8.2" text-anchor="end" font-weight="normal" fill="#333" >0</text>
<line x1="50.00" y1="470.07" x2="52.80" y2="470.07" stroke="#1e1e1e" stroke-width="0.9" />
<text x="46.20" y="472.67" font-size="8.2" text-anchor="end" font-weight="normal" fill="#333" >5</text>
<line x1="50.00" y1="452.54" x2="52.80" y2="452.54" stroke="#1e1e1e" stroke-width="0.9" />
<text x="46.20" y="455.14" font-size="8.2" text-anchor="end" font-weight="normal" fill="#333" >10</text>
<line x1="50.00" y1="435.01" x2="52.80" y2="435.01" stroke="#1e1e1e" stroke-width="0.9" />
<text x="46.20" y="437.61" font-size="8.2" text-anchor="end" font-weight="normal" fill="#333" >15</text>
<line x1="50.00" y1="417.48" x2="52.80" y2="417.48" stroke="#1e1e1e" stroke-width="0.9" />
<text x="46.20" y="420.08" font-size="8.2" text-anchor="end" font-weight="normal" fill="#333" >20</text>
<line x1="50.00" y1="399.95" x2="52.80" y2="399.95" stroke="#1e1e1e" stroke-width="0.9" />
<text x="46.20" y="402.55" font-size="8.2" text-anchor="end" font-weight="normal" fill="#333" >25</text>
<line x1="52.80" y1="487.60" x2="52.80" y2="490.60" stroke="#1e1e1e" stroke-width="0.9" />
<line x1="59.42" y1="487.60" x2="59.42" y2="489.60" stroke="#1e1e1e" stroke-width="0.9" />
<line x1="66.05" y1="487.60" x2="66.05" y2="489.60" stroke="#1e1e1e" stroke-width="0.9" />
<line x1="72.67" y1="487.60" x2="72.67" y2="489.60" stroke="#1e1e1e" stroke-width="0.9" />
<line x1="79.30" y1="487.60" x2="79.30" y2="490.60" stroke="#1e1e1e" stroke-width="0.9" />
<line x1="85.92" y1="487.60" x2="85.92" y2="489.60" stroke="#1e1e1e" stroke-width="0.9" />
<line x1="92.55" y1="487.60" x2="92.55" y2="489.60" stroke="#1e1e1e" stroke-width="0.9" />
<line x1="99.17" y1="487.60" x2="99.17" y2="489.60" stroke="#1e1e1e" stroke-width="0.9" />
<line x1="105.80" y1="487.60" x2="105.80" y2="490.60" stroke="#1e1e1e" stroke-width="0.9" />
<line x1="112.42" y1="487.60" x2="112.42" y2="489.60" stroke="#1e1e1e" stroke-width="0.9" />
<line x1="119.05" y1="487.60" x2="119.05" y2="489.60" stroke="#1e1e1e" stroke-width="0.9" />
<line x1="125.67" y1="487.60" x2="125.67" y2="489.60" stroke="#1e1e1e" stroke-width="0.9" />
<line x1="132.30" y1="487.60" x2="132.30" y2="490.60" stroke="#1e1e1e" stroke-width="0.9" />
<line x1="138.93" y1="487.60" x2="138.93" y2="489.60" stroke="#1e1e1e" stroke-width="0.9" />
<line x1="145.55" y1="487.60" x2="145.55" y2="489.60" stroke="#1e1e1e" stroke-width="0.9" />
<line x1="152.18" y1="487.60" x2="152.18" y2="489.60" stroke="#1e1e1e" stroke-width="0.9" />
<line x1="158.80" y1="487.60" x2="158.80" y2="490.60" stroke="#1e1e1e" stroke-width="0.9" />
<line x1="165.43" y1="487.60" x2="165.43" y2="489.60" stroke="#1e1e1e" stroke-width="0.9" />
<line x1="172.05" y1="487.60" x2="172.05" y2="489.60" stroke="#1e1e1e" stroke-width="0.9" />
<line x1="178.68" y1="487.60" x2="178.68" y2="489.60" stroke="#1e1e1e" stroke-width="0.9" />
<line x1="185.30" y1="487.60" x2="185.30" y2="490.60" stroke="#1e1e1e" stroke-width="0.9" />
<text x="52.80" y="501.00" font-size="8.0" text-anchor="middle" font-weight="normal" fill="#333" >0</text>
<text x="79.30" y="501.00" font-size="8.0" text-anchor="middle" font-weight="normal" fill="#333" >1</text>
<text x="105.80" y="501.00" font-size="8.0" text-anchor="middle" font-weight="normal" fill="#333" >2</text>
<text x="132.30" y="501.00" font-size="8.0" text-anchor="middle" font-weight="normal" fill="#333" >3</text>
<text x="158.80" y="501.00" font-size="8.0" text-anchor="middle" font-weight="normal" fill="#333" >4</text>
<text x="185.30" y="501.00" font-size="8.0" text-anchor="middle" font-weight="normal" fill="#333" >5</text>
<text x="105.20" y="391.80" font-size="7.8" text-anchor="start" font-weight="normal" fill="#333" >Stem cell</text>
<text x="78.70" y="403.40" font-size="8.1" text-anchor="start" font-weight="normal" fill="#333" >r = −0.1263</text>
<text x="127.10" y="403.40" font-size="8.1" text-anchor="start" font-weight="normal" fill="#333" ><tspan font-style="italic">P</tspan> = .4698</text>
<text x="91.60" y="514.00" font-size="9.2" text-anchor="start" font-weight="normal" fill="#333" stroke="#333" stroke-width="0.2" textLength="58.7" lengthAdjust="spacingAndGlyphs" >% Myeloblast in BM</text>
<line x1="52.80" y1="474.90" x2="172.10" y2="484.00" stroke="#222" stroke-width="0.9" />
<circle cx="52.80" cy="409.40" r="1.3" fill="#dd1274" stroke="#a0104c" stroke-width="0.35"/>
<circle cx="66.00" cy="458.20" r="1.3" fill="#dd1274" stroke="#a0104c" stroke-width="0.35"/>
<circle cx="92.50" cy="451.30" r="1.3" fill="#dd1274" stroke="#a0104c" stroke-width="0.35"/>
<circle cx="79.00" cy="469.70" r="1.3" fill="#dd1274" stroke="#a0104c" stroke-width="0.35"/>
<circle cx="105.70" cy="464.10" r="1.3" fill="#dd1274" stroke="#a0104c" stroke-width="0.35"/>
<circle cx="92.50" cy="480.30" r="1.3" fill="#dd1274" stroke="#a0104c" stroke-width="0.35"/>
<circle cx="105.70" cy="480.30" r="1.3" fill="#dd1274" stroke="#a0104c" stroke-width="0.35"/>
<circle cx="118.80" cy="486.50" r="1.3" fill="#dd1274" stroke="#a0104c" stroke-width="0.35"/>
<circle cx="132.30" cy="483.10" r="1.3" fill="#dd1274" stroke="#a0104c" stroke-width="0.35"/>
<circle cx="132.30" cy="484.70" r="1.3" fill="#dd1274" stroke="#a0104c" stroke-width="0.35"/>
<circle cx="172.10" cy="484.00" r="1.3" fill="#dd1274" stroke="#a0104c" stroke-width="0.35"/>
<circle cx="52.80" cy="474.30" r="1.3" fill="#dd1274" stroke="#a0104c" stroke-width="0.35"/>
<circle cx="52.80" cy="476.80" r="1.3" fill="#dd1274" stroke="#a0104c" stroke-width="0.35"/>
<circle cx="52.80" cy="478.80" r="1.3" fill="#dd1274" stroke="#a0104c" stroke-width="0.35"/>
<circle cx="52.80" cy="480.80" r="1.3" fill="#dd1274" stroke="#a0104c" stroke-width="0.35"/>
<circle cx="52.80" cy="482.80" r="1.3" fill="#dd1274" stroke="#a0104c" stroke-width="0.35"/>
<circle cx="52.80" cy="484.80" r="1.3" fill="#dd1274" stroke="#a0104c" stroke-width="0.35"/>
<circle cx="52.80" cy="486.50" r="1.3" fill="#dd1274" stroke="#a0104c" stroke-width="0.35"/>
<circle cx="66.00" cy="477.40" r="1.3" fill="#dd1274" stroke="#a0104c" stroke-width="0.35"/>
<circle cx="66.00" cy="479.40" r="1.3" fill="#dd1274" stroke="#a0104c" stroke-width="0.35"/>
<circle cx="66.00" cy="481.40" r="1.3" fill="#dd1274" stroke="#a0104c" stroke-width="0.35"/>
<circle cx="66.00" cy="483.90" r="1.3" fill="#dd1274" stroke="#a0104c" stroke-width="0.35"/>
<circle cx="79.00" cy="478.20" r="1.3" fill="#dd1274" stroke="#a0104c" stroke-width="0.35"/>
<circle cx="79.00" cy="480.20" r="1.3" fill="#dd1274" stroke="#a0104c" stroke-width="0.35"/>
<circle cx="79.00" cy="482.20" r="1.3" fill="#dd1274" stroke="#a0104c" stroke-width="0.35"/>
<circle cx="79.00" cy="483.60" r="1.3" fill="#dd1274" stroke="#a0104c" stroke-width="0.35"/>
<line x1="213.30" y1="396.70" x2="213.30" y2="488.10" stroke="#1e1e1e" stroke-width="1.2" />
<line x1="212.70" y1="487.60" x2="345.05" y2="487.60" stroke="#1e1e1e" stroke-width="1.3" />
<line x1="210.50" y1="487.60" x2="213.30" y2="487.60" stroke="#1e1e1e" stroke-width="0.9" />
<text x="206.70" y="490.20" font-size="8.2" text-anchor="end" font-weight="normal" fill="#333" >0</text>
<line x1="210.50" y1="470.07" x2="213.30" y2="470.07" stroke="#1e1e1e" stroke-width="0.9" />
<text x="206.70" y="472.67" font-size="8.2" text-anchor="end" font-weight="normal" fill="#333" >5</text>
<line x1="210.50" y1="452.54" x2="213.30" y2="452.54" stroke="#1e1e1e" stroke-width="0.9" />
<text x="206.70" y="455.14" font-size="8.2" text-anchor="end" font-weight="normal" fill="#333" >10</text>
<line x1="210.50" y1="435.01" x2="213.30" y2="435.01" stroke="#1e1e1e" stroke-width="0.9" />
<text x="206.70" y="437.61" font-size="8.2" text-anchor="end" font-weight="normal" fill="#333" >15</text>
<line x1="210.50" y1="417.48" x2="213.30" y2="417.48" stroke="#1e1e1e" stroke-width="0.9" />
<text x="206.70" y="420.08" font-size="8.2" text-anchor="end" font-weight="normal" fill="#333" >20</text>
<line x1="210.50" y1="399.95" x2="213.30" y2="399.95" stroke="#1e1e1e" stroke-width="0.9" />
<text x="206.70" y="402.55" font-size="8.2" text-anchor="end" font-weight="normal" fill="#333" >25</text>
<line x1="213.30" y1="487.60" x2="213.30" y2="490.60" stroke="#1e1e1e" stroke-width="0.9" />
<line x1="218.57" y1="487.60" x2="218.57" y2="489.60" stroke="#1e1e1e" stroke-width="0.9" />
<line x1="223.84" y1="487.60" x2="223.84" y2="489.60" stroke="#1e1e1e" stroke-width="0.9" />
<line x1="229.11" y1="487.60" x2="229.11" y2="489.60" stroke="#1e1e1e" stroke-width="0.9" />
<line x1="234.38" y1="487.60" x2="234.38" y2="489.60" stroke="#1e1e1e" stroke-width="0.9" />
<line x1="239.65" y1="487.60" x2="239.65" y2="490.60" stroke="#1e1e1e" stroke-width="0.9" />
<line x1="244.92" y1="487.60" x2="244.92" y2="489.60" stroke="#1e1e1e" stroke-width="0.9" />
<line x1="250.19" y1="487.60" x2="250.19" y2="489.60" stroke="#1e1e1e" stroke-width="0.9" />
<line x1="255.46" y1="487.60" x2="255.46" y2="489.60" stroke="#1e1e1e" stroke-width="0.9" />
<line x1="260.73" y1="487.60" x2="260.73" y2="489.60" stroke="#1e1e1e" stroke-width="0.9" />
<line x1="266.00" y1="487.60" x2="266.00" y2="490.60" stroke="#1e1e1e" stroke-width="0.9" />
<line x1="271.27" y1="487.60" x2="271.27" y2="489.60" stroke="#1e1e1e" stroke-width="0.9" />
<line x1="276.54" y1="487.60" x2="276.54" y2="489.60" stroke="#1e1e1e" stroke-width="0.9" />
<line x1="281.81" y1="487.60" x2="281.81" y2="489.60" stroke="#1e1e1e" stroke-width="0.9" />
<line x1="287.08" y1="487.60" x2="287.08" y2="489.60" stroke="#1e1e1e" stroke-width="0.9" />
<line x1="292.35" y1="487.60" x2="292.35" y2="490.60" stroke="#1e1e1e" stroke-width="0.9" />
<line x1="297.62" y1="487.60" x2="297.62" y2="489.60" stroke="#1e1e1e" stroke-width="0.9" />
<line x1="302.89" y1="487.60" x2="302.89" y2="489.60" stroke="#1e1e1e" stroke-width="0.9" />
<line x1="308.16" y1="487.60" x2="308.16" y2="489.60" stroke="#1e1e1e" stroke-width="0.9" />
<line x1="313.43" y1="487.60" x2="313.43" y2="489.60" stroke="#1e1e1e" stroke-width="0.9" />
<line x1="318.70" y1="487.60" x2="318.70" y2="490.60" stroke="#1e1e1e" stroke-width="0.9" />
<line x1="323.97" y1="487.60" x2="323.97" y2="489.60" stroke="#1e1e1e" stroke-width="0.9" />
<line x1="329.24" y1="487.60" x2="329.24" y2="489.60" stroke="#1e1e1e" stroke-width="0.9" />
<line x1="334.51" y1="487.60" x2="334.51" y2="489.60" stroke="#1e1e1e" stroke-width="0.9" />
<line x1="339.78" y1="487.60" x2="339.78" y2="489.60" stroke="#1e1e1e" stroke-width="0.9" />
<line x1="345.05" y1="487.60" x2="345.05" y2="490.60" stroke="#1e1e1e" stroke-width="0.9" />
<text x="213.30" y="501.00" font-size="8.0" text-anchor="middle" font-weight="normal" fill="#333" >0</text>
<text x="239.65" y="501.00" font-size="8.0" text-anchor="middle" font-weight="normal" fill="#333" >5</text>
<text x="266.00" y="501.00" font-size="8.0" text-anchor="middle" font-weight="normal" fill="#333" >10</text>
<text x="292.35" y="501.00" font-size="8.0" text-anchor="middle" font-weight="normal" fill="#333" >15</text>
<text x="318.70" y="501.00" font-size="8.0" text-anchor="middle" font-weight="normal" fill="#333" >20</text>
<text x="345.05" y="501.00" font-size="8.0" text-anchor="middle" font-weight="normal" fill="#333" >25</text>
<text x="263.10" y="391.80" font-size="7.8" text-anchor="start" font-weight="normal" fill="#333" >Mitotic cell</text>
<text x="241.40" y="403.40" font-size="8.1" text-anchor="start" font-weight="normal" fill="#333" >r = 0.5216</text>
<text x="285.70" y="403.40" font-size="8.1" text-anchor="start" font-weight="normal" fill="#333" ><tspan font-style="italic">P</tspan> = .0013</text>
<text x="241.50" y="514.00" font-size="9.2" text-anchor="start" font-weight="normal" fill="#333" stroke="#333" stroke-width="0.2" textLength="82.0" lengthAdjust="spacingAndGlyphs" >% Mitotic neutrophil in BM</text>
<line x1="221.10" y1="480.80" x2="322.20" y2="450.40" stroke="#222" stroke-width="0.9" />
<circle cx="234.40" cy="451.30" r="1.3" fill="#dd1274" stroke="#a0104c" stroke-width="0.35"/>
<circle cx="252.90" cy="464.00" r="1.3" fill="#dd1274" stroke="#a0104c" stroke-width="0.35"/>
<circle cx="247.70" cy="470.00" r="1.3" fill="#dd1274" stroke="#a0104c" stroke-width="0.35"/>
<circle cx="213.10" cy="474.40" r="1.3" fill="#dd1274" stroke="#a0104c" stroke-width="0.35"/>
<circle cx="236.90" cy="479.80" r="1.3" fill="#dd1274" stroke="#a0104c" stroke-width="0.35"/>
<circle cx="249.60" cy="479.20" r="1.3" fill="#dd1274" stroke="#a0104c" stroke-width="0.35"/>
<circle cx="258.30" cy="476.10" r="1.3" fill="#dd1274" stroke="#a0104c" stroke-width="0.35"/>
<circle cx="258.30" cy="479.00" r="1.3" fill="#dd1274" stroke="#a0104c" stroke-width="0.35"/>
<circle cx="250.60" cy="486.80" r="1.3" fill="#dd1274" stroke="#a0104c" stroke-width="0.35"/>
<circle cx="229.20" cy="480.00" r="1.3" fill="#dd1274" stroke="#a0104c" stroke-width="0.35"/>
<circle cx="231.90" cy="479.20" r="1.3" fill="#dd1274" stroke="#a0104c" stroke-width="0.35"/>
<circle cx="229.20" cy="483.80" r="1.3" fill="#dd1274" stroke="#a0104c" stroke-width="0.35"/>
<circle cx="226.30" cy="485.60" r="1.3" fill="#dd1274" stroke="#a0104c" stroke-width="0.35"/>
<circle cx="290.30" cy="409.60" r="1.3" fill="#dd1274" stroke="#a0104c" stroke-width="0.35"/>
<circle cx="322.20" cy="458.20" r="1.3" fill="#dd1274" stroke="#a0104c" stroke-width="0.35"/>
<circle cx="290.30" cy="469.20" r="1.3" fill="#dd1274" stroke="#a0104c" stroke-width="0.35"/>
<circle cx="279.50" cy="483.10" r="1.3" fill="#dd1274" stroke="#a0104c" stroke-width="0.35"/>
<circle cx="213.50" cy="482.00" r="1.3" fill="#dd1274" stroke="#a0104c" stroke-width="0.35"/>
<circle cx="215.50" cy="483.50" r="1.3" fill="#dd1274" stroke="#a0104c" stroke-width="0.35"/>
<circle cx="217.50" cy="483.00" r="1.3" fill="#dd1274" stroke="#a0104c" stroke-width="0.35"/>
<circle cx="219.00" cy="481.00" r="1.3" fill="#dd1274" stroke="#a0104c" stroke-width="0.35"/>
<circle cx="219.00" cy="484.00" r="1.3" fill="#dd1274" stroke="#a0104c" stroke-width="0.35"/>
<circle cx="220.50" cy="479.00" r="1.3" fill="#dd1274" stroke="#a0104c" stroke-width="0.35"/>
<circle cx="222.00" cy="480.00" r="1.3" fill="#dd1274" stroke="#a0104c" stroke-width="0.35"/>
<circle cx="214.00" cy="485.00" r="1.3" fill="#dd1274" stroke="#a0104c" stroke-width="0.35"/>
<circle cx="221.50" cy="483.50" r="1.3" fill="#dd1274" stroke="#a0104c" stroke-width="0.35"/>
<circle cx="217.50" cy="479.50" r="1.3" fill="#dd1274" stroke="#a0104c" stroke-width="0.35"/>
<circle cx="213.50" cy="480.00" r="1.3" fill="#dd1274" stroke="#a0104c" stroke-width="0.35"/>
<circle cx="216.00" cy="481.00" r="1.3" fill="#dd1274" stroke="#a0104c" stroke-width="0.35"/>
<line x1="375.50" y1="396.70" x2="375.50" y2="488.10" stroke="#1e1e1e" stroke-width="1.2" />
<line x1="374.90" y1="487.60" x2="508.70" y2="487.60" stroke="#1e1e1e" stroke-width="1.3" />
<line x1="372.70" y1="487.60" x2="375.50" y2="487.60" stroke="#1e1e1e" stroke-width="0.9" />
<text x="368.90" y="490.20" font-size="8.2" text-anchor="end" font-weight="normal" fill="#333" >0</text>
<line x1="372.70" y1="470.07" x2="375.50" y2="470.07" stroke="#1e1e1e" stroke-width="0.9" />
<text x="368.90" y="472.67" font-size="8.2" text-anchor="end" font-weight="normal" fill="#333" >5</text>
<line x1="372.70" y1="452.54" x2="375.50" y2="452.54" stroke="#1e1e1e" stroke-width="0.9" />
<text x="368.90" y="455.14" font-size="8.2" text-anchor="end" font-weight="normal" fill="#333" >10</text>
<line x1="372.70" y1="435.01" x2="375.50" y2="435.01" stroke="#1e1e1e" stroke-width="0.9" />
<text x="368.90" y="437.61" font-size="8.2" text-anchor="end" font-weight="normal" fill="#333" >15</text>
<line x1="372.70" y1="417.48" x2="375.50" y2="417.48" stroke="#1e1e1e" stroke-width="0.9" />
<text x="368.90" y="420.08" font-size="8.2" text-anchor="end" font-weight="normal" fill="#333" >20</text>
<line x1="372.70" y1="399.95" x2="375.50" y2="399.95" stroke="#1e1e1e" stroke-width="0.9" />
<text x="368.90" y="402.55" font-size="8.2" text-anchor="end" font-weight="normal" fill="#333" >25</text>
<line x1="375.50" y1="487.60" x2="375.50" y2="490.60" stroke="#1e1e1e" stroke-width="0.9" />
<line x1="380.83" y1="487.60" x2="380.83" y2="489.60" stroke="#1e1e1e" stroke-width="0.9" />
<line x1="386.16" y1="487.60" x2="386.16" y2="489.60" stroke="#1e1e1e" stroke-width="0.9" />
<line x1="391.48" y1="487.60" x2="391.48" y2="489.60" stroke="#1e1e1e" stroke-width="0.9" />
<line x1="396.81" y1="487.60" x2="396.81" y2="489.60" stroke="#1e1e1e" stroke-width="0.9" />
<line x1="402.14" y1="487.60" x2="402.14" y2="490.60" stroke="#1e1e1e" stroke-width="0.9" />
<line x1="407.47" y1="487.60" x2="407.47" y2="489.60" stroke="#1e1e1e" stroke-width="0.9" />
<line x1="412.80" y1="487.60" x2="412.80" y2="489.60" stroke="#1e1e1e" stroke-width="0.9" />
<line x1="418.12" y1="487.60" x2="418.12" y2="489.60" stroke="#1e1e1e" stroke-width="0.9" />
<line x1="423.45" y1="487.60" x2="423.45" y2="489.60" stroke="#1e1e1e" stroke-width="0.9" />
<line x1="428.78" y1="487.60" x2="428.78" y2="490.60" stroke="#1e1e1e" stroke-width="0.9" />
<line x1="434.11" y1="487.60" x2="434.11" y2="489.60" stroke="#1e1e1e" stroke-width="0.9" />
<line x1="439.44" y1="487.60" x2="439.44" y2="489.60" stroke="#1e1e1e" stroke-width="0.9" />
<line x1="444.76" y1="487.60" x2="444.76" y2="489.60" stroke="#1e1e1e" stroke-width="0.9" />
<line x1="450.09" y1="487.60" x2="450.09" y2="489.60" stroke="#1e1e1e" stroke-width="0.9" />
<line x1="455.42" y1="487.60" x2="455.42" y2="490.60" stroke="#1e1e1e" stroke-width="0.9" />
<line x1="460.75" y1="487.60" x2="460.75" y2="489.60" stroke="#1e1e1e" stroke-width="0.9" />
<line x1="466.08" y1="487.60" x2="466.08" y2="489.60" stroke="#1e1e1e" stroke-width="0.9" />
<line x1="471.40" y1="487.60" x2="471.40" y2="489.60" stroke="#1e1e1e" stroke-width="0.9" />
<line x1="476.73" y1="487.60" x2="476.73" y2="489.60" stroke="#1e1e1e" stroke-width="0.9" />
<line x1="482.06" y1="487.60" x2="482.06" y2="490.60" stroke="#1e1e1e" stroke-width="0.9" />
<line x1="487.39" y1="487.60" x2="487.39" y2="489.60" stroke="#1e1e1e" stroke-width="0.9" />
<line x1="492.72" y1="487.60" x2="492.72" y2="489.60" stroke="#1e1e1e" stroke-width="0.9" />
<line x1="498.04" y1="487.60" x2="498.04" y2="489.60" stroke="#1e1e1e" stroke-width="0.9" />
<line x1="503.37" y1="487.60" x2="503.37" y2="489.60" stroke="#1e1e1e" stroke-width="0.9" />
<line x1="508.70" y1="487.60" x2="508.70" y2="490.60" stroke="#1e1e1e" stroke-width="0.9" />
<text x="375.50" y="501.00" font-size="8.0" text-anchor="middle" font-weight="normal" fill="#333" >0</text>
<text x="402.14" y="501.00" font-size="8.0" text-anchor="middle" font-weight="normal" fill="#333" >10</text>
<text x="428.78" y="501.00" font-size="8.0" text-anchor="middle" font-weight="normal" fill="#333" >20</text>
<text x="455.42" y="501.00" font-size="8.0" text-anchor="middle" font-weight="normal" fill="#333" >30</text>
<text x="482.06" y="501.00" font-size="8.0" text-anchor="middle" font-weight="normal" fill="#333" >40</text>
<text x="508.70" y="501.00" font-size="8.0" text-anchor="middle" font-weight="normal" fill="#333" >50</text>
<text x="416.20" y="391.80" font-size="7.8" text-anchor="start" font-weight="normal" fill="#333" >Post-mitotic cell</text>
<text x="403.70" y="403.40" font-size="8.1" text-anchor="start" font-weight="normal" fill="#333" >r = 0.4356</text>
<text x="447.50" y="403.40" font-size="8.1" text-anchor="start" font-weight="normal" fill="#333" ><tspan font-style="italic">P</tspan> = .0089</text>
<text x="396.40" y="514.00" font-size="9.2" text-anchor="start" font-weight="normal" fill="#333" stroke="#333" stroke-width="0.2" textLength="91.2" lengthAdjust="spacingAndGlyphs" >% Post-mitotic neutrophil in BM</text>
<line x1="381.20" y1="480.30" x2="497.10" y2="458.50" stroke="#222" stroke-width="0.9" />
<circle cx="423.00" cy="409.60" r="1.3" fill="#dd1274" stroke="#a0104c" stroke-width="0.35"/>
<circle cx="376.90" cy="470.10" r="1.3" fill="#dd1274" stroke="#a0104c" stroke-width="0.35"/>
<circle cx="375.20" cy="474.30" r="1.3" fill="#dd1274" stroke="#a0104c" stroke-width="0.35"/>
<circle cx="399.20" cy="480.30" r="1.3" fill="#dd1274" stroke="#a0104c" stroke-width="0.35"/>
<circle cx="403.50" cy="479.50" r="1.3" fill="#dd1274" stroke="#a0104c" stroke-width="0.35"/>
<circle cx="423.10" cy="476.60" r="1.3" fill="#dd1274" stroke="#a0104c" stroke-width="0.35"/>
<circle cx="428.50" cy="479.30" r="1.3" fill="#dd1274" stroke="#a0104c" stroke-width="0.35"/>
<circle cx="381.20" cy="486.50" r="1.3" fill="#dd1274" stroke="#a0104c" stroke-width="0.35"/>
<circle cx="382.20" cy="483.10" r="1.3" fill="#dd1274" stroke="#a0104c" stroke-width="0.35"/>
<circle cx="456.50" cy="458.20" r="1.3" fill="#dd1274" stroke="#a0104c" stroke-width="0.35"/>
<circle cx="473.80" cy="451.60" r="1.3" fill="#dd1274" stroke="#a0104c" stroke-width="0.35"/>
<circle cx="488.50" cy="469.40" r="1.3" fill="#dd1274" stroke="#a0104c" stroke-width="0.35"/>
<circle cx="497.80" cy="464.20" r="1.3" fill="#dd1274" stroke="#a0104c" stroke-width="0.35"/>
<circle cx="480.50" cy="482.90" r="1.3" fill="#dd1274" stroke="#a0104c" stroke-width="0.35"/>
<circle cx="375.50" cy="479.00" r="1.3" fill="#dd1274" stroke="#a0104c" stroke-width="0.35"/>
<circle cx="377.50" cy="479.00" r="1.3" fill="#dd1274" stroke="#a0104c" stroke-width="0.35"/>
<circle cx="379.00" cy="480.00" r="1.3" fill="#dd1274" stroke="#a0104c" stroke-width="0.35"/>
<circle cx="376.00" cy="482.00" r="1.3" fill="#dd1274" stroke="#a0104c" stroke-width="0.35"/>
<circle cx="378.00" cy="483.00" r="1.3" fill="#dd1274" stroke="#a0104c" stroke-width="0.35"/>
<circle cx="380.00" cy="482.00" r="1.3" fill="#dd1274" stroke="#a0104c" stroke-width="0.35"/>
<circle cx="376.00" cy="485.00" r="1.3" fill="#dd1274" stroke="#a0104c" stroke-width="0.35"/>
<text x="30.30" y="473.00" font-size="8.2" text-anchor="start" font-weight="normal" fill="#333" stroke="#333" stroke-width="0.3" textLength="62" lengthAdjust="spacingAndGlyphs" transform="rotate(-90 30.30 473.00)">pANC (×10<tspan font-size="6" dy="-2.8">9</tspan><tspan dy="2.8"> cells/L)</tspan></text>
<rect x="0.5" y="0.5" width="519" height="522" fill="none" stroke="#5c5c5c" stroke-width="1"/>
</svg>
</body></html>
